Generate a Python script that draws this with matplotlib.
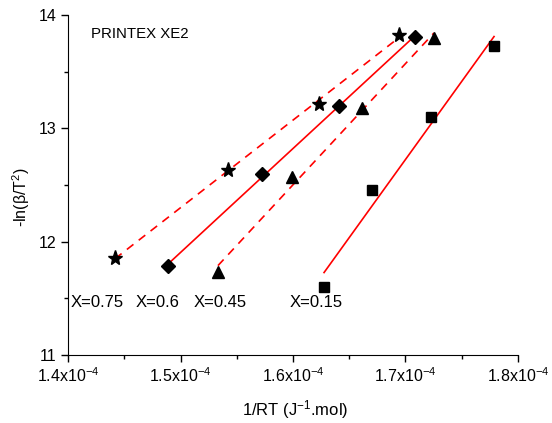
import numpy as np
import matplotlib
matplotlib.use('Agg')
import matplotlib.pyplot as plt
from matplotlib.ticker import FixedLocator, FuncFormatter

plt.rcParams['font.family'] = ['Liberation Sans', 'DejaVu Sans']
plt.rcParams['mathtext.fontset'] = 'custom'
plt.rcParams['mathtext.rm'] = 'Liberation Sans'
plt.rcParams['mathtext.it'] = 'Liberation Sans:italic'

# data (x in J^-1.mol)
x075 = [1.4418e-4, 1.5422e-4, 1.6231e-4, 1.6942e-4]
y075 = [11.856, 12.632, 13.215, 13.824]
x060 = [1.4889e-4, 1.5724e-4, 1.6409e-4, 1.7084e-4]
y060 = [11.785, 12.597, 13.197, 13.806]
x045 = [1.5333e-4, 1.5991e-4, 1.6613e-4, 1.7253e-4]
y045 = [11.73, 12.57, 13.18, 13.80]
x015 = [1.6276e-4, 1.6702e-4, 1.7227e-4, 1.7787e-4]
y015 = [11.60, 12.46, 13.10, 13.73]

series = [
    (x075, y075, '*', 11, '--', 'X=0.75'),
    (x060, y060, 'D', 7, '-', 'X=0.6'),
    (x045, y045, '^', 9, '--', 'X=0.45'),
    (x015, y015, 's', 7, '-', 'X=0.15'),
]
label_pos = {'X=0.75': (1.4262e-4, 11.46), 'X=0.6': (1.480e-4, 11.46),
             'X=0.45': (1.5356e-4, 11.46), 'X=0.15': (1.6209e-4, 11.46)}

fig = plt.figure(figsize=(5.52, 4.23), dpi=100)
ax = fig.add_axes([0.1232, 0.1608, 0.8152, 0.8037])

for xs, ys, mk, ms, ls, lab in series:
    xs = np.array(xs)
    p = np.polyfit(xs, ys, 1)
    xx = np.array([xs.min(), xs.max()])
    ax.plot(xx, np.polyval(p, xx), color='red', ls=ls, lw=1.2,
            dashes=(5, 4) if ls == '--' else (None, None), zorder=2)
    ax.plot(xs, ys, ls='none', marker=mk, ms=ms, color='black', zorder=3)
    tx, ty = label_pos[lab]
    ax.text(tx, ty, lab, fontsize=12, ha='center', va='center')

ax.text(1.4636e-4, 13.83, 'PRINTEX XE2', fontsize=10.8, ha='center', va='center')

ax.set_xlim(1.4e-4, 1.8e-4)
ax.set_ylim(11, 14)
ax.xaxis.set_major_locator(FixedLocator([1.4e-4, 1.5e-4, 1.6e-4, 1.7e-4, 1.8e-4]))
ax.xaxis.set_minor_locator(FixedLocator([1.45e-4, 1.55e-4, 1.65e-4, 1.75e-4]))
ax.yaxis.set_major_locator(FixedLocator([11, 12, 13, 14]))
ax.yaxis.set_minor_locator(FixedLocator([11.5, 12.5, 13.5]))
ax.xaxis.set_major_formatter(FuncFormatter(lambda v, pos: r'%.1fx10$^{-4}$' % (v * 1e4)))
ax.yaxis.set_major_formatter(FuncFormatter(lambda v, pos: '%d' % v))

ax.spines['top'].set_visible(False)
ax.spines['right'].set_visible(False)
ax.tick_params(which='major', direction='out', length=5, width=1, labelsize=11.5)
ax.tick_params(which='minor', direction='out', length=3, width=1)

ax.set_xlabel(r'1/RT (J$^{-1}$.mol)', fontsize=12)
ax.set_ylabel(r'-ln(β/T$^2$)', fontsize=11.5)
ax.xaxis.set_label_coords(0.504, -0.128)
ax.yaxis.set_label_coords(-0.08, 0.465)

fig.savefig('out.png', dpi=100)
